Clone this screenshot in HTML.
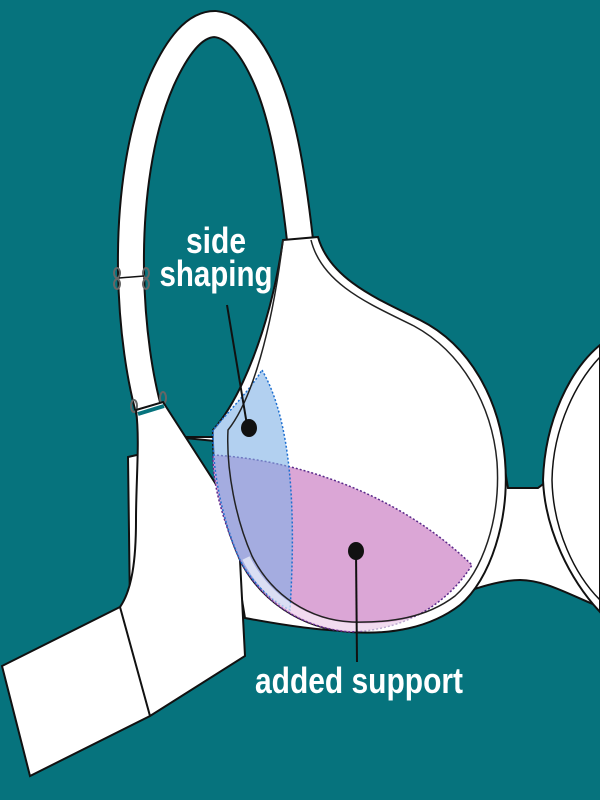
<!DOCTYPE html>
<html><head><style>
html,body{margin:0;padding:0;background:#06737d;}
svg{display:block}
text{font-family:"Liberation Sans Narrow","Liberation Sans",sans-serif;font-weight:bold;fill:#fff}
</style></head><body>
<svg width="600" height="800" viewBox="0 0 600 800">
<rect width="600" height="800" fill="#06737d"/>
<path d="M300,240 C292,170 282,110 262,70 C250,45 235,26 215,24 C195,24 178,45 162,80 C140,130 130,200 131,270 C132,330 140,380 150,415" fill="none" stroke="#111" stroke-width="28"/>
<path d="M300,240 C292,170 282,110 262,70 C250,45 235,26 215,24 C195,24 178,45 162,80 C140,130 130,200 131,270 C132,330 140,380 150,415" fill="none" stroke="#fff" stroke-width="24"/>
<g fill="none" stroke="#666" stroke-width="2">
<ellipse cx="117" cy="273" rx="3" ry="5"/><ellipse cx="117" cy="284" rx="3" ry="5"/>
<ellipse cx="146" cy="273" rx="3" ry="5"/><ellipse cx="146" cy="284" rx="3" ry="5"/>
<ellipse cx="134" cy="406" rx="3" ry="6"/><ellipse cx="163" cy="398" rx="3" ry="6"/>
</g>
<line x1="119" y1="278" x2="144" y2="276" stroke="#111" stroke-width="1.5"/>
<path d="M175,437 L505,470 L508,488 L538,488 L600,440 L600,607 C570,595 545,580 520,580 C490,580 440,600 400,622 C370,635 330,634 245,618 L215,437 Z" fill="#fff" stroke="#111" stroke-width="2"/>
<path d="M128,457 L150,452 L150,610 L130,610 Z" fill="#fff" stroke="#111" stroke-width="2"/>
<path d="M136,410 L163,402 L228,503 C236,510 240,515 240,560 L245,656 L150,716 L30,776 L2,666 L120,607 C132,590 136,560 136,520 C136,480 140,440 136,410 Z" fill="#fff" stroke="#111" stroke-width="2"/>
<line x1="120" y1="607" x2="150" y2="716" stroke="#111" stroke-width="2"/>
<line x1="138" y1="414" x2="164" y2="406" stroke="#06737d" stroke-width="4"/>
<path d="M283,240 L318,237 C330,280 380,300 420,320 C470,345 500,400 505,460 C510,520 490,580 460,605 C430,628 390,635 350,632 C300,628 260,600 240,560 C222,520 212,470 213,430 C240,400 270,330 283,240 Z" fill="#fff" stroke="#111" stroke-width="2"/>
<path d="M600,345 C570,370 545,420 543,480 C545,530 570,580 600,612 L600,345 Z" fill="#fff" stroke="#111" stroke-width="2"/>
<path d="M600,357 C578,380 553,425 552,480 C553,530 575,575 600,600" fill="none" stroke="#111" stroke-width="1.5"/>
<path d="M213,455 C300,460 400,495 472,565 C450,600 410,630 350,632 C300,628 260,600 240,560 C222,520 212,480 213,455 Z" fill="#dba6d6" stroke="#5a2a8a" stroke-width="1.5" stroke-dasharray="2,2"/>
<path d="M262,370 C285,410 298,480 290,610 C270,600 250,580 240,560 C222,520 212,470 213,430 C230,410 250,390 262,370 Z" fill="#7fb0e6" fill-opacity="0.6" stroke="#1e6fd0" stroke-width="1.5" stroke-dasharray="2,2"/>
<path d="M458,600 C428,623 390,629 351,627 C305,624 266,598 246,558" fill="none" stroke="#fff" stroke-opacity="0.6" stroke-width="8"/>
<path d="M311,240 C322,285 372,305 414,326 C462,352 492,405 497,462 C501,520 482,572 455,596 C426,618 390,623 352,622 C310,620 272,596 252,556 C236,520 226,470 228,430 C252,400 272,330 283,240" fill="none" stroke="#222" stroke-width="1.5"/>
<line x1="227" y1="305" x2="247" y2="425" stroke="#111" stroke-width="2"/>
<ellipse cx="249" cy="428" rx="8" ry="9" fill="#111"/>
<line x1="356" y1="551" x2="357" y2="662" stroke="#111" stroke-width="2"/>
<ellipse cx="356" cy="551" rx="8" ry="9" fill="#111"/>
<text x="216" y="253" font-size="36" text-anchor="middle" textLength="60" lengthAdjust="spacingAndGlyphs">side</text>
<text x="216" y="286" font-size="36" text-anchor="middle" textLength="113" lengthAdjust="spacingAndGlyphs">shaping</text>
<text x="359" y="693" font-size="36" text-anchor="middle" textLength="208" lengthAdjust="spacingAndGlyphs">added support</text>
</svg>
</body></html>
